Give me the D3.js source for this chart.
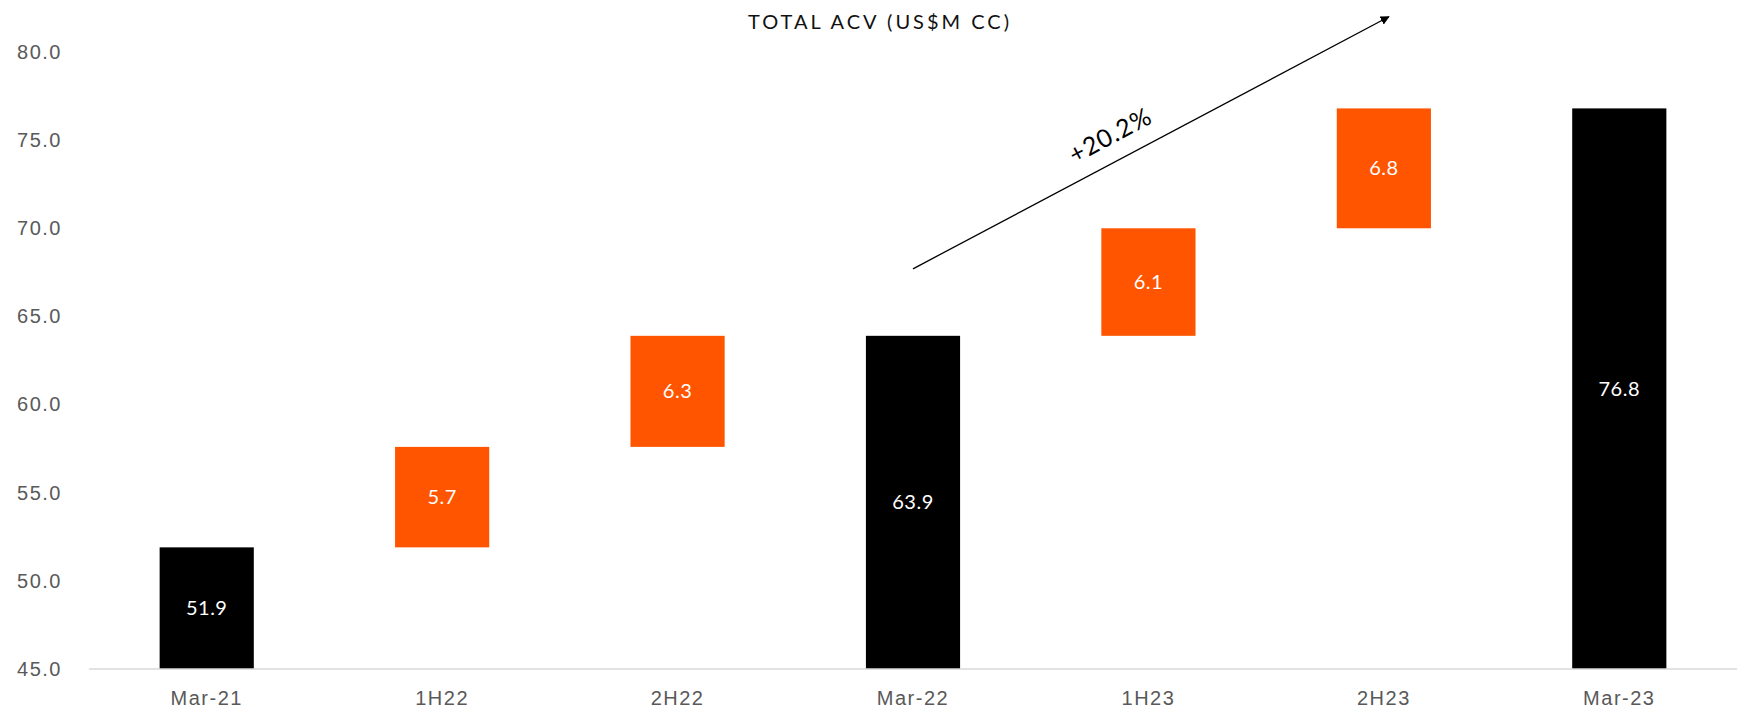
<!DOCTYPE html>
<html lang="en">
<head>
<meta charset="UTF-8">
<title>Total ACV waterfall</title>
<script src="https://d3js.org/d3.v7.min.js"></script>
<style>
    body { margin: 0; background: #fff; }
    svg { display: block; font-family: "Lato", "DejaVu Sans", sans-serif; }
    .tick-label { fill: #595959; font-size: 20px; letter-spacing: 1.5px; }
    .bar-label { fill: #fff; font-size: 20px; letter-spacing: 0.5px; }
</style>
</head>
<body>
<div id="chart"></div>
<script>
const width = 1737;
const height = 711;

// waterfall data
const categories = ["Mar-21", "1H22", "2H22", "Mar-22", "1H23", "2H23", "Mar-23"];
const values = [51.9, 5.7, 6.3, 63.9, 6.1, 6.8, 76.8];
const isTotal = [true, false, false, true, false, false, true];
const yTicks = [45, 50, 55, 60, 65, 70, 75, 80];

// growth arrow, in data terms: [category, value]
const arrowFrom = ["Mar-22", 67.7];
const arrowTo = ["2H23", 82.0];
const arrowLabel = "+20.2%";

const x = d3.scaleBand()
    .domain(categories)
    .range([89, width])
    .paddingInner(0.6)
    .paddingOuter(0.3);

const y = d3.scaleLinear()
    .domain([45, 80])
    .range([669, 52]);

// work out where each bar starts and ends
let running = 0;
const bars = categories.map((c, i) => {
    let lo, hi;
    if (isTotal[i]) {
        lo = y.domain()[0];
        hi = values[i];
        running = values[i];
    } else {
        lo = running;
        hi = running + values[i];
        running = hi;
    }
    return { cat: c, value: values[i], lo, hi, total: isTotal[i] };
});

const svg = d3.select("#chart").append("svg")
    .attr("width", width)
    .attr("height", height);

svg.append("defs").append("marker")
    .attr("id", "arrowhead")
    .attr("viewBox", "0 0 10 10")
    .attr("refX", 9)
    .attr("refY", 5)
    .attr("markerWidth", 7)
    .attr("markerHeight", 7)
    .attr("orient", "auto")
    .append("path")
    .attr("d", "M0,0 L10,5 L0,10 Z")
    .attr("fill", "#000");

// title
svg.append("text")
    .attr("x", 880)
    .attr("y", 29)
    .attr("text-anchor", "middle")
    .style("font-size", "20px")
    .style("letter-spacing", "3px")
    .attr("fill", "#111")
    .text("TOTAL ACV (US$M CC)");

// y axis labels (no axis line)
const yAxis = svg.append("g")
    .attr("transform", "translate(62,0)")
    .call(d3.axisLeft(y).tickValues(yTicks).tickSize(0).tickPadding(0).tickFormat(d3.format(".1f")));
yAxis.select(".domain").remove();
yAxis.selectAll("text")
    .attr("class", "tick-label")
    .attr("font-family", null)
    .attr("font-size", null)
    .attr("fill", null);

// bars
svg.append("g").selectAll("rect")
    .data(bars)
    .join("rect")
    .attr("x", d => x(d.cat))
    .attr("width", x.bandwidth())
    .attr("y", d => y(d.hi))
    .attr("height", d => y(d.lo) - y(d.hi))
    .attr("fill", d => d.total ? "#000" : "#ff5500");

// baseline
svg.append("line")
    .attr("x1", 89)
    .attr("x2", width)
    .attr("y1", y(45))
    .attr("y2", y(45))
    .attr("stroke", "#d9d9d9")
    .attr("stroke-width", 1.5);

// value labels inside bars
svg.append("g").selectAll("text")
    .data(bars)
    .join("text")
    .attr("class", "bar-label")
    .attr("x", d => x(d.cat) + x.bandwidth() / 2)
    .attr("y", d => (y(d.lo) + y(d.hi)) / 2)
    .attr("dy", "0.35em")
    .attr("text-anchor", "middle")
    .text(d => d3.format(".1f")(d.value));

// x axis labels
const xAxis = svg.append("g")
    .attr("transform", `translate(0,${y(45)})`)
    .call(d3.axisBottom(x).tickSize(0).tickPadding(22));
xAxis.select(".domain").remove();
xAxis.selectAll("text")
    .attr("class", "tick-label")
    .attr("font-family", null)
    .attr("font-size", null)
    .attr("fill", null);

// growth arrow
const ax1 = x(arrowFrom[0]) + x.bandwidth() / 2;
const ay1 = y(arrowFrom[1]);
const ax2 = x(arrowTo[0]) + x.bandwidth() / 2 + 5;
const ay2 = y(arrowTo[1]);
svg.append("line")
    .attr("x1", ax1).attr("y1", ay1)
    .attr("x2", ax2).attr("y2", ay2)
    .attr("stroke", "#000")
    .attr("stroke-width", 1.3)
    .attr("marker-end", "url(#arrowhead)");

const angle = Math.atan2(ay2 - ay1, ax2 - ax1) * 180 / Math.PI;
const mx = ax1 + (ax2 - ax1) * 0.44;
const my = ay1 + (ay2 - ay1) * 0.44;
svg.append("text")
    .attr("transform", `translate(${mx},${my}) rotate(${angle}) translate(0,-17)`)
    .attr("text-anchor", "middle")
    .style("font-size", "25px")
    .style("letter-spacing", "1px")
    .attr("fill", "#000")
    .text(arrowLabel);
</script>
</body>
</html>
